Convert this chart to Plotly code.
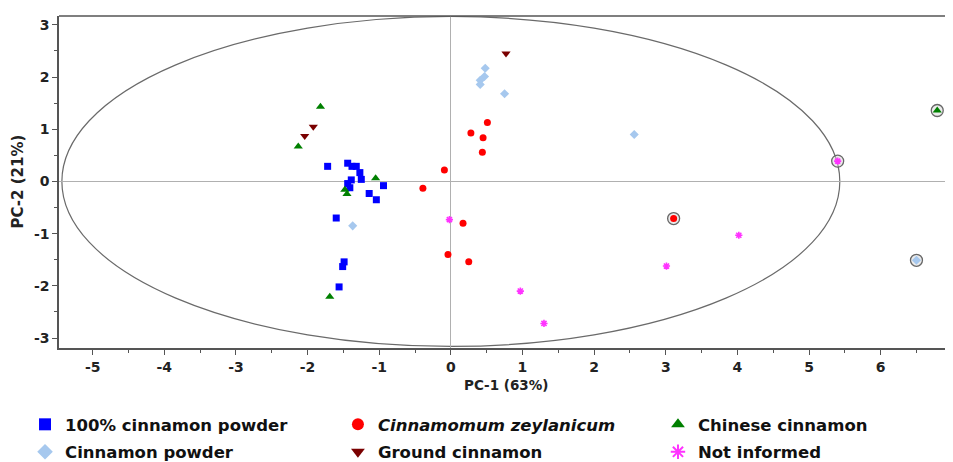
import plotly.graph_objects as go

# ---- data (PC-1, PC-2 scores) ----
pure_x = [-1.72, -1.44, -1.38, -1.32, -1.27, -1.25, -1.39, -1.44, -1.41, -0.94, -1.14, -1.04, -1.60, -1.49, -1.51, -1.56]
pure_y = [0.29, 0.35, 0.29, 0.29, 0.17, 0.04, 0.03, -0.04, -0.12, -0.08, -0.23, -0.35, -0.70, -1.54, -1.63, -2.02]

powder_x = [-1.37, 0.48, 0.47, 0.41, 0.41, 0.75, 2.56, 6.50]
powder_y = [-0.85, 2.17, 2.01, 1.94, 1.86, 1.68, 0.90, -1.51]

zey_x = [0.51, 0.28, 0.45, 0.44, -0.09, -0.39, 0.17, -0.04, 0.25, 3.11]
zey_y = [1.13, 0.93, 0.84, 0.56, 0.22, -0.13, -0.80, -1.40, -1.54, -0.71]

ground_x = [-1.92, -2.04, 0.77]
ground_y = [1.05, 0.87, 2.45]

chinese_x = [-1.82, -2.13, -1.05, -1.48, -1.45, -1.69, 6.79]
chinese_y = [1.43, 0.67, 0.06, -0.16, -0.24, -2.21, 1.36]

notinf_x = [-0.02, 0.97, 1.30, 4.02, 3.01, 5.40]
notinf_y = [-0.73, -2.10, -2.72, -1.03, -1.62, 0.39]

outlier_x = [3.11, 5.40, 6.79, 6.50]
outlier_y = [-0.71, 0.39, 1.36, -1.51]

# Hotelling T2 ellipse semi-axes
ell_a = 5.43
ell_b = 3.16

x_ticks = [-5, -4, -3, -2, -1, 0, 1, 2, 3, 4, 5, 6, 7]
y_ticks = [-3, -2, -1, 0, 1, 2, 3]

x_title = "PC-1 (63%)"
y_title = "PC-2 (21%)"

fig = go.Figure()

fig.add_trace(go.Scatter(x=outlier_x, y=outlier_y, mode="markers", showlegend=False,
                         marker=dict(symbol="circle", size=12, color="rgba(215,215,215,0.5)",
                                     line=dict(color="#666666", width=1.3)),
                         hoverinfo="skip"))

series = [
    ("<b>100% cinnamon powder</b>", pure_x, pure_y, "square", "#0000ff", 7, "legend", "g1"),
    ("<b>Cinnamon powder</b>", powder_x, powder_y, "diamond", "#a6c8ee", 7, "legend", "g2"),
    ("<b><i>Cinnamomum zeylanicum</i></b>", zey_x, zey_y, "circle", "#ff0000", 7, "legend2", "g3"),
    ("<b>Ground cinnamon</b>", ground_x, ground_y, "triangle-down", "#7a0000", 8, "legend2", "g4"),
    ("<b>Chinese cinnamon</b>", chinese_x, chinese_y, "triangle-up", "#008000", 8, "legend3", "g5"),
]
for name, xs, ys, sym, col, sz, lg, grp in series:
    fig.add_trace(go.Scatter(x=xs, y=ys, mode="markers", name=name, legend=lg, legendgroup=grp,
                             marker=dict(symbol=sym, size=sz, color=col, line=dict(width=0))))

fig.add_trace(go.Scatter(x=notinf_x, y=notinf_y, mode="markers", name="<b>Not informed</b>",
                         legend="legend3", legendgroup="g6",
                         marker=dict(symbol="asterisk-open", size=6, color="#ff33ff",
                                     line=dict(color="#ff33ff", width=1.6))))

fig.add_shape(type="circle", xref="x", yref="y", x0=-ell_a, x1=ell_a, y0=-ell_b, y1=ell_b,
              line=dict(color="#6a6a6a", width=1.2), layer="below")
# top frame line of the plot area
fig.add_shape(type="line", xref="paper", yref="paper", x0=0, x1=1, y0=1, y1=1,
              line=dict(color="#555555", width=1.5))

tick_font = dict(family="DejaVu Sans, Verdana, sans-serif", size=14, color="#222222", weight="bold")
leg_font = dict(family="DejaVu Sans, Verdana, sans-serif", size=16.5, color="#111111")

fig.add_annotation(text="<b>" + x_title + "</b>", xref="paper", yref="paper", x=0.5, y=-0.111,
                   xanchor="center", yanchor="middle", showarrow=False,
                   font=dict(family="DejaVu Sans, Verdana, sans-serif", size=13.5, color="#222222"))
fig.add_annotation(text="<b>" + y_title + "</b>", xref="paper", yref="paper", x=-0.0464, y=0.5,
                   xanchor="center", yanchor="middle", showarrow=False, textangle=-90,
                   font=dict(family="DejaVu Sans, Verdana, sans-serif", size=15, color="#222222"))

common_axis = dict(automargin=False, showgrid=False, zeroline=True, zerolinecolor="#b0b0b0",
                   zerolinewidth=1.3, showline=True, linecolor="#555555", linewidth=1.5,
                   mirror=False, ticks="outside", ticklen=5, tickcolor="#555555",
                   minor=dict(dtick=0.5, tick0=0, ticks="outside", ticklen=3, tickcolor="#555555"),
                   tickfont=tick_font)

fig.update_layout(
    width=945, height=454,
    margin=dict(l=51, r=0, t=8, b=114, autoexpand=False),
    paper_bgcolor="white", plot_bgcolor="white",
    xaxis=dict(common_axis, range=[-5.47, 7.01], tickvals=x_ticks,
               ticktext=[str(v) for v in x_ticks]),
    yaxis=dict(common_axis, range=[-3.19, 3.17], tickvals=y_ticks,
               ticktext=[str(v) for v in y_ticks]),
    legend=dict(x=-0.038, y=-0.178, xanchor="left", yanchor="top", bgcolor="rgba(0,0,0,0)",
                font=leg_font, tracegroupgap=3, itemsizing="constant"),
    legend2=dict(x=0.312, y=-0.178, xanchor="left", yanchor="top", bgcolor="rgba(0,0,0,0)",
                 font=leg_font, tracegroupgap=3, itemsizing="constant"),
    legend3=dict(x=0.670, y=-0.178, xanchor="left", yanchor="top", bgcolor="rgba(0,0,0,0)",
                 font=leg_font, tracegroupgap=3, itemsizing="constant"),
)

fig.write_html("out.html")
